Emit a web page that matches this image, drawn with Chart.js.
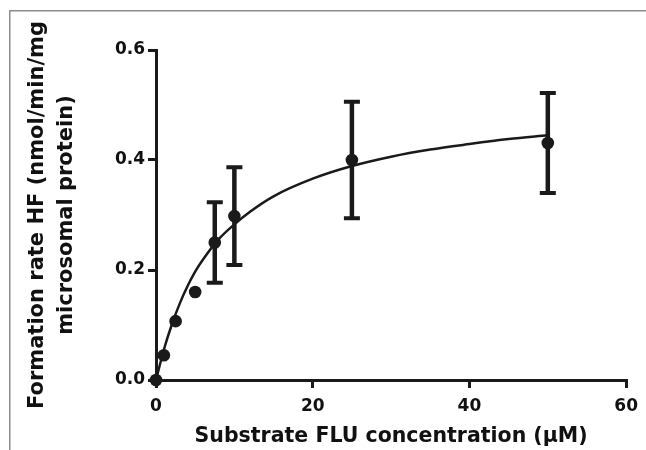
<!DOCTYPE html>
<html>
<head>
<meta charset="utf-8">
<script src="https://cdn.jsdelivr.net/npm/chart.js@4.4.1/dist/chart.umd.min.js"></script>
<style>
  html, body { margin: 0; padding: 0; background: #fff; }
  #wrap { width: 646px; height: 450px; position: relative; }
</style>
</head>
<body>
<div id="wrap"><canvas id="c" width="646" height="450"></canvas></div>
<script>
// Measured data (mean ± SD)
const concentrations = [0, 1, 2.5, 5, 7.5, 10, 25, 50];
const formationRate  = [0, 0.045, 0.107, 0.160, 0.250, 0.298, 0.400, 0.431];
const errorSD        = [0, 0, 0, 0, 0.073, 0.089, 0.106, 0.091];

// Fitted curve
const fitConc = [0, 1, 2, 3, 4, 5, 6, 8, 10, 12, 15, 20, 25, 30, 35, 40, 45, 50];
const fitRate = [0, 0.055, 0.100, 0.138, 0.170, 0.197, 0.219, 0.256, 0.283, 0.306, 0.334, 0.366, 0.389, 0.406, 0.419, 0.429, 0.438, 0.445];

// Tick labels
const xTicks = [0, 20, 40, 60];
const yTicks = [0, 0.2, 0.4, 0.6];
const yTickLabels = ['0.0', '0.2', '0.4', '0.6'];

const xTitle = 'Substrate FLU concentration (\u00B5M)';
const yTitle = ['Formation rate HF (nmol/min/mg', 'microsomal protein)'];

const INK = '#1a1a1a';
const FONT = "'DejaVu Sans', 'Liberation Sans', Arial, sans-serif";

const errorBarPlugin = {
  id: 'errorBars',
  beforeDatasetsDraw(chart) {
    const { ctx, scales: { x, y } } = chart;
    ctx.save();
    ctx.strokeStyle = INK;
    ctx.lineCap = 'butt';
    concentrations.forEach((c, i) => {
      const sd = errorSD[i];
      if (!sd) return;
      const px = x.getPixelForValue(c);
      const top = y.getPixelForValue(formationRate[i] + sd);
      const bot = y.getPixelForValue(formationRate[i] - sd);
      ctx.lineWidth = 4.5;
      ctx.beginPath();
      ctx.moveTo(px, top);
      ctx.lineTo(px, bot);
      ctx.stroke();
      ctx.lineWidth = 4;
      ctx.beginPath();
      ctx.moveTo(px - 8, top);
      ctx.lineTo(px + 8, top);
      ctx.moveTo(px - 8, bot);
      ctx.lineTo(px + 8, bot);
      ctx.stroke();
    });
    ctx.restore();
  }
};

const framePlugin = {
  id: 'frame',
  afterDraw(chart) {
    const { ctx } = chart;
    ctx.save();
    ctx.strokeStyle = '#8c8c8c';
    ctx.lineWidth = 1.5;
    ctx.beginPath();
    ctx.moveTo(9.75, 450);
    ctx.lineTo(9.75, 10.75);
    ctx.lineTo(646, 10.75);
    ctx.stroke();
    ctx.restore();
  }
};

new Chart(document.getElementById('c'), {
  type: 'scatter',
  data: {
    datasets: [
      {
        type: 'line',
        data: fitConc.map((c, i) => ({ x: c, y: fitRate[i] })),
        borderColor: INK,
        borderWidth: 2.5,
        pointRadius: 0,
        cubicInterpolationMode: 'monotone',
        fill: false,
        clip: false,
        order: 2
      },
      {
        type: 'scatter',
        data: concentrations.map((c, i) => ({ x: c, y: formationRate[i] })),
        backgroundColor: INK,
        borderColor: INK,
        pointRadius: 6.3,
        pointBorderWidth: 0,
        clip: false,
        order: 1
      }
    ]
  },
  options: {
    responsive: false,
    animation: false,
    devicePixelRatio: 1,
    layout: { padding: { top: 50, right: 18, left: 0, bottom: 0 } },
    plugins: { legend: { display: false }, tooltip: { enabled: false } },
    scales: {
      x: {
        type: 'linear',
        min: 0, max: 60,
        afterBuildTicks: (s) => { s.ticks = xTicks.map(v => ({ value: v })); },
        afterFit: (s) => { s.height = 70; },
        grid: { drawOnChartArea: false, drawTicks: true, tickLength: 8, lineWidth: 3, color: INK },
        border: { display: true, width: 3, color: INK },
        ticks: {
          color: '#111',
          padding: 8,
          font: { family: FONT, size: 17, weight: 'bold' },
          callback: (v) => String(v)
        },
        title: {
          display: true,
          text: xTitle,
          color: '#111',
          font: { family: FONT, size: 20.5, weight: 'bold', lineHeight: '24px' },
          padding: { top: 0, bottom: 1 }
        }
      },
      y: {
        type: 'linear',
        min: 0, max: 0.6,
        afterBuildTicks: (s) => { s.ticks = yTicks.map(v => ({ value: v })); },
        afterFit: (s) => { s.width = 156; },
        grid: { drawOnChartArea: false, drawTicks: true, tickLength: 8, lineWidth: 3, color: INK },
        border: { display: true, width: 3, color: INK },
        ticks: {
          color: '#111',
          padding: 3,
          font: { family: FONT, size: 17, weight: 'bold' },
          callback: (v) => yTickLabels[yTicks.findIndex(t => Math.abs(t - v) < 1e-9)]
        },
        title: {
          display: true,
          text: yTitle,
          color: '#111',
          font: { family: FONT, size: 21, weight: 'bold', lineHeight: '29px' },
          padding: { top: 23.5, bottom: 0 }
        }
      }
    }
  },
  plugins: [errorBarPlugin, framePlugin]
});
</script>
</body>
</html>
